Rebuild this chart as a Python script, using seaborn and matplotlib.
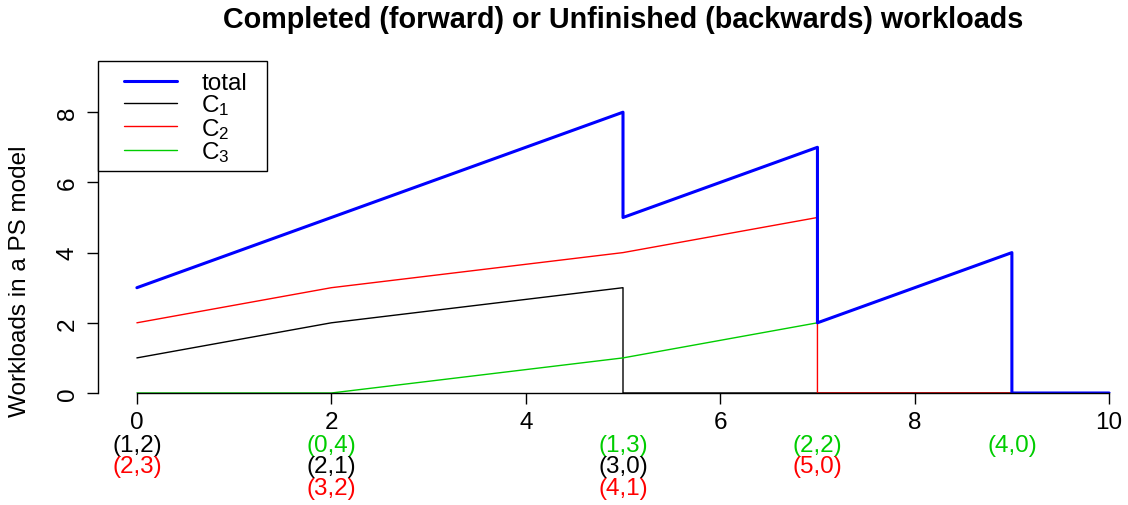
import matplotlib
matplotlib.use("Agg")
import matplotlib.pyplot as plt
from matplotlib.patches import Rectangle
import seaborn as sns

# piecewise workloads over time
total_x = [0, 5, 5, 7, 7, 9, 9, 10]
total_y = [3, 8, 5, 7, 2, 4, 0, 0]
c1_x = [0, 2, 5, 5, 10]
c1_y = [1, 2, 3, 0, 0]
c2_x = [0, 2, 5, 7, 7, 10]
c2_y = [2, 3, 4, 5, 0, 0]
c3_x = [0, 2, 5, 7, 9, 9, 10]
c3_y = [0, 0, 1, 2, 4, 0, 0]

# state labels under the x axis: (time, row, text, colour)
state_t = [0, 0, 2, 2, 2, 5, 5, 5, 7, 7, 9]
state_row = [0, 1, 0, 1, 2, 0, 1, 2, 0, 1, 0]
state_txt = ["(1,2)", "(2,3)", "(0,4)", "(2,1)", "(3,2)", "(1,3)", "(3,0)", "(4,1)",
             "(2,2)", "(5,0)", "(4,0)"]
state_col = ["black", "red", "green", "black", "red", "green", "black", "red",
             "green", "red", "green"]

GREEN = "#00CD00"
cmap = {"black": "black", "red": "#FF0000", "green": GREEN}

sns.set_style("white")
plt.rcParams["font.family"] = ["Liberation Sans", "DejaVu Sans"]
plt.rcParams["mathtext.fontset"] = "custom"
plt.rcParams["mathtext.rm"] = "Liberation Sans"
plt.rcParams["mathtext.it"] = "Liberation Sans"
plt.rcParams["mathtext.default"] = "regular"
plt.rcParams["text.color"] = "black"
plt.rcParams["xtick.color"] = "black"
plt.rcParams["ytick.color"] = "black"
plt.rcParams["axes.labelcolor"] = "black"

FS = 17.5

W, H = 1128, 506
fig = plt.figure(figsize=(W / 100, H / 100), dpi=100)
# plot region 98..1148 px wide (runs off the right edge like the original)
ax = fig.add_axes([98 / W, (H - 394) / H, 1050 / W, 334 / H])
ax.set_xlim(-0.4, 10.4)
ax.set_ylim(0, 334 / 35.1)

sns.lineplot(x=c1_x, y=c1_y, sort=False, estimator=None, color="black", lw=1, ax=ax, label="C$_1$")
sns.lineplot(x=c2_x, y=c2_y, sort=False, estimator=None, color="#FF0000", lw=1, ax=ax, label="C$_2$")
sns.lineplot(x=c3_x, y=c3_y, sort=False, estimator=None, color=GREEN, lw=1, ax=ax, label="C$_3$")
sns.lineplot(x=total_x, y=total_y, sort=False, estimator=None, color="#0000FF", lw=2.2, ax=ax, label="total")

for s in ["top", "right"]:
    ax.spines[s].set_visible(False)
ax.spines["left"].set_bounds(0, 8)
ax.spines["bottom"].set_bounds(0, 10)
for s in ["left", "bottom"]:
    ax.spines[s].set_color("black")
    ax.spines[s].set_linewidth(1)

ax.set_xticks([0, 2, 4, 6, 8, 10])
ax.set_yticks([0, 2, 4, 6, 8])
ax.tick_params(axis="both", direction="out", length=8, width=1, color="black",
               labelcolor="black", labelsize=FS, left=True, bottom=True)
ax.tick_params(axis="x", pad=5)
ax.tick_params(axis="y", pad=6)
for lab in ax.get_yticklabels():
    lab.set_rotation(90)
    lab.set_va("center")

fig.text(20 / W, 1 - 281 / H, "Workloads in a PS model", rotation=90,
         ha="center", va="center", fontsize=FS, color="black")
fig.text(623 / W, 1 - 20 / H, "Completed (forward) or Unfinished (backwards) workloads",
         ha="center", va="center", fontsize=20.7, fontweight="bold", color="black")

row_y = [446, 467, 489]
for t, r, txt, c in zip(state_t, state_row, state_txt, state_col):
    ax.annotate(txt, xy=(t, H - row_y[r]), xycoords=("data", "figure pixels"),
                ha="center", va="center", fontsize=FS, color=cmap[c],
                annotation_clip=False)

# legend box drawn separately so the padding can follow the original
box = Rectangle((98 / W, 1 - 172 / H), 169 / W, 110 / H, transform=fig.transFigure,
                facecolor="white", edgecolor="black", lw=1, clip_on=False, zorder=4)
ax.add_patch(box)

handles, labels = ax.get_legend_handles_labels()
order = [3, 0, 1, 2]
leg = ax.legend([handles[i] for i in order], [labels[i] for i in order],
                loc="upper left", bbox_to_anchor=(124 / W, 1 - 73 / H),
                bbox_transform=fig.transFigure, borderaxespad=0, fontsize=FS,
                frameon=False, labelspacing=-0.06, handlelength=2.18,
                handletextpad=1.0, borderpad=0, labelcolor="black")
leg.set_zorder(5)

fig.savefig("out.png", dpi=100)
